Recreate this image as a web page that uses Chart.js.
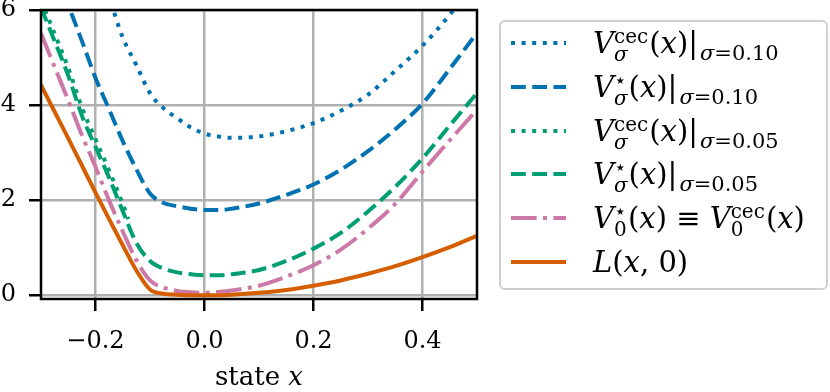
<!DOCTYPE html>
<html><head><meta charset="utf-8">
<script src="https://cdn.jsdelivr.net/npm/chart.js@4.4.1/dist/chart.umd.min.js"></script>
<style>
html,body{margin:0;padding:0;background:#fff;}
#wrap{position:relative;width:830px;height:392px;overflow:hidden;font-family:"DejaVu Serif",serif;color:#000;}
#c{position:absolute;left:0;top:0;}
#xlabel{position:absolute;left:41px;width:436px;top:363px;text-align:center;font-size:26px;line-height:26px;white-space:nowrap;}
#legend{position:absolute;left:499px;top:20px;width:325px;height:266px;border:2px solid #cfcfcf;border-radius:6px;background:rgba(255,255,255,0.8);}
.row{position:absolute;left:0;height:44px;width:100%;}
.row svg{position:absolute;left:10px;top:0;}
.row .t{position:absolute;left:92px;top:0;height:44px;line-height:44px;font-size:29px;white-space:nowrap;}
.ss{display:inline-flex;flex-direction:column;vertical-align:middle;font-size:20px;line-height:18px;margin-right:1px;}
.sb{font-size:21px;position:relative;top:7px;line-height:0;margin-left:2px;}
</style>
</head><body>
<div id="wrap">
<canvas id="c" width="830" height="392"></canvas>
<div id="xlabel">state <i>x</i></div>
<div id="legend"></div>
</div>
<script>
// ---- data ----
const xs = [-0.3,-0.275,-0.25,-0.225,-0.2,-0.175,-0.15,-0.125,-0.1,-0.075,-0.05,-0.025,0,0.025,0.05,0.1,0.15,0.2,0.25,0.3,0.35,0.4,0.45,0.5];
const vCecSigma010 = [9.4,8.8,8.15,7.5,6.9,6.25,5.42,4.84,4.25,3.93,3.72,3.53,3.40,3.34,3.31,3.34,3.45,3.62,3.88,4.22,4.72,5.25,5.9,6.65];
const vStarSigma010 = [7.6,6.85,6.1,5.35,4.57,3.91,3.24,2.65,2.14,1.94,1.87,1.82,1.79,1.79,1.82,1.93,2.11,2.33,2.64,3.03,3.49,4.03,4.76,5.52];
const xsCec005 = [-0.3,-0.275,-0.25,-0.225,-0.2,-0.175,-0.15,-0.14];
const vCecSigma005 = [6.2,5.5,4.78,3.95,3.28,2.62,1.92,1.6];
const vStarSigma005 = [6.05,5.35,4.62,3.78,3.12,2.47,1.77,1.10,0.72,0.56,0.48,0.44,0.42,0.42,0.44,0.53,0.72,0.98,1.31,1.76,2.28,2.88,3.57,4.25];
const vZero = [5.51,4.8,4.1,3.37,2.7,1.99,1.34,0.74,0.31,0.16,0.09,0.06,0.05,0.07,0.1,0.2,0.39,0.63,0.96,1.40,1.92,2.6,3.26,3.9];
const stageCost = [4.42,3.86,3.3,2.73,2.16,1.6,1.05,0.52,0.12,0.03,0.01,0.0,0.0,0.0,0.01,0.05,0.11,0.2,0.31,0.45,0.61,0.8,1.01,1.25];
const xTicks = [-0.2,0,0.2,0.4];
const xTickLabels = ['\u22120.2','0.0','0.2','0.4'];
const yTicks = [0,2,4,6];
const yTickLabels = ['0','2','4','6'];
const labelsHtml = [
  '<i>V</i><span class="ss"><span>cec</span><span><i>σ</i></span></span>(<i>x</i>)|<span class="sb"><i>σ</i>=0.10</span>',
  '<i>V</i><span class="ss"><span>⋆</span><span><i>σ</i></span></span>(<i>x</i>)|<span class="sb"><i>σ</i>=0.10</span>',
  '<i>V</i><span class="ss"><span>cec</span><span><i>σ</i></span></span>(<i>x</i>)|<span class="sb"><i>σ</i>=0.05</span>',
  '<i>V</i><span class="ss"><span>⋆</span><span><i>σ</i></span></span>(<i>x</i>)|<span class="sb"><i>σ</i>=0.05</span>',
  '<i>V</i><span class="ss"><span>⋆</span><span>0</span></span>(<i>x</i>) ≡ <i>V</i><span class="ss"><span>cec</span><span>0</span></span>(<i>x</i>)',
  '<i>L</i>(<i>x</i>, 0)'
];

// ---- styles ----
const BLUE='#0072B2', GREEN='#009E73', PINK='#CC79A7', ORANGE='#D55E00';
const LW=4;
const DOT=[4,6.6], DASH=[14.8,6.4], DASHDOT=[25.6,6.4,4,6.4];
const FONT='DejaVu Serif';

const toPts = (x,y)=>x.map((v,i)=>({x:v,y:y[i]}));
const series = [
  {data:toPts(xs,vCecSigma010), color:BLUE, dash:DOT},
  {data:toPts(xs,vStarSigma010), color:BLUE, dash:DASH},
  {data:toPts(xsCec005,vCecSigma005), color:GREEN, dash:DOT},
  {data:toPts(xs,vStarSigma005), color:GREEN, dash:DASH},
  {data:toPts(xs,vZero), color:PINK, dash:DASHDOT},
  {data:toPts(xs,stageCost), color:ORANGE, dash:[]}
];

const frame = {
  id:'frame',
  afterDatasetsDraw(chart){
    const {ctx, chartArea:a} = chart;
    ctx.save();
    ctx.strokeStyle='#000'; ctx.lineWidth=2.5; ctx.setLineDash([]);
    ctx.strokeRect(a.left, a.top, a.right-a.left, a.bottom-a.top);
    ctx.restore();
  }
};

new Chart(document.getElementById('c'), {
  type:'line',
  data:{datasets: series.map((s,i)=>({
    data:s.data, borderColor:s.color, backgroundColor:s.color, borderWidth:LW,
    borderDash:s.dash, pointRadius:0, fill:false, cubicInterpolationMode:'monotone',
    order: 5-i, borderCapStyle: s.dash.length? 'butt':'round', borderJoinStyle:'round'
  }))},
  options:{
    responsive:false, animation:false, devicePixelRatio:1,
    layout:{padding:{left:0,top:10,right:353,bottom:0}},
    plugins:{legend:{display:false}, tooltip:{enabled:false}},
    scales:{
      x:{type:'linear', min:-0.3, max:0.5,
        afterBuildTicks(s){ s.ticks = xTicks.map(v=>({value:v})); },
        afterFit(s){ s.height = 93; s.paddingLeft = 0; s.paddingRight = 0; },
        ticks:{autoSkip:false, maxRotation:0, padding:16, color:'#000',
          font:{family:FONT, size:24},
          callback:(v,i)=>xTickLabels[i]},
        grid:{color:'#b0b0b0', lineWidth:2.5, drawTicks:true, tickLength:12, tickColor:'#000', tickWidth:2.5},
        border:{display:false}
      },
      y:{type:'linear', min:-0.08, max:6,
        afterBuildTicks(s){ s.ticks = yTicks.map(v=>({value:v})); },
        afterFit(s){ s.width = 41; s.paddingTop = 0; s.paddingBottom = 0; },
        ticks:{autoSkip:false, padding:13, color:'#000',
          font:{family:FONT, size:24},
          callback:(v,i)=>yTickLabels[i]},
        grid:{color:'#b0b0b0', lineWidth:2.5, drawTicks:true, tickLength:12, tickColor:'#000', tickWidth:2.5},
        border:{display:false}
      }
    }
  },
  plugins:[frame]
});

// ---- legend (HTML text) ----
const leg = document.getElementById('legend');
const rowCenters = [21,64.8,108.6,152.4,196.2,240];
series.forEach((s,i)=>{
  const r = document.createElement('div');
  r.className='row'; r.style.top=(rowCenters[i]-22)+'px';
  const dash = s.dash.length ? `stroke-dasharray="${s.dash.join(' ')}"` : '';
  r.innerHTML = `<svg width="60" height="44"><line x1="0" y1="22" x2="55" y2="22" stroke="${s.color}" stroke-width="${LW}" ${dash}/></svg><span class="t">${labelsHtml[i]}</span>`;
  leg.appendChild(r);
});
</script>
</body></html>
